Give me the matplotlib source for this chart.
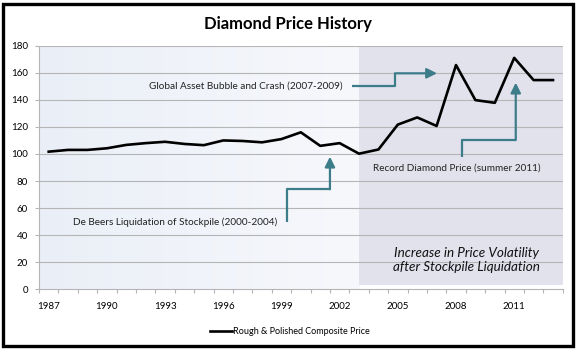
import numpy as np
import matplotlib
matplotlib.use("Agg")
import matplotlib.pyplot as plt
from matplotlib.patches import Rectangle
from matplotlib.colors import LinearSegmentedColormap

# data
years = list(range(1987, 2014))
prices = [101.7, 103, 103, 104.2, 106.7, 108, 109, 107.4, 106.5, 110, 109.6, 108.6, 111,
          116, 106, 108, 100.2, 103.3, 121.7, 127, 120.7, 165.7, 139.8, 137.8, 171, 154.6, 154.6]
tick_years = [1987, 1990, 1993, 1996, 1999, 2002, 2005, 2008, 2011]
yticks = [0, 20, 40, 60, 80, 100, 120, 140, 160, 180]
series_name = "Rough & Polished Composite Price"

teal = "#3d7d8a"
plt.rcParams["font.family"] = ["Lato", "DejaVu Sans"]

fig = plt.figure(figsize=(5.76, 3.49), dpi=100)
ax = fig.add_axes([39 / 576, 1 - 289.3 / 349, (562.7 - 39) / 576, (289.3 - 45.7) / 349])

# background gradient of the plot area + shaded volatility period
cmap = LinearSegmentedColormap.from_list("bg", ["#eaeff7", "#f7f8fc"])
grad = np.linspace(0, 1, 256).reshape(1, -1)
ax.imshow(grad, cmap=cmap, aspect="auto", extent=[1986.5, 2003, 0, 180], zorder=0)
ax.add_patch(Rectangle((2003, 3), 2013.5 - 2003, 176, facecolor="#e2e2ed", edgecolor="none", zorder=0.5))

ax.set_xlim(1986.5, 2013.5)
ax.set_ylim(0, 180)
for y in yticks[1:]:
    ax.axhline(y, color="#b5b5b5", lw=0.8, zorder=1)

ax.plot(years, prices, color="black", lw=1.9, label=series_name, zorder=5)

# axes styling
for s in ["top", "right"]:
    ax.spines[s].set_visible(False)
for s in ["left", "bottom"]:
    ax.spines[s].set_color("#b5b5b5")
    ax.spines[s].set_linewidth(0.8)
ax.set_xticks(tick_years)
ax.set_xticklabels([str(y) for y in tick_years])
ax.set_xticks(np.arange(1986.5, 2014, 1), minor=True)
ax.tick_params(axis="x", which="major", length=0, pad=9, labelsize=7)
ax.tick_params(axis="x", which="minor", length=3, color="#b5b5b5", width=0.8)
ax.set_yticks(yticks)
ax.tick_params(axis="y", length=3, color="#b5b5b5", width=0.8, pad=5, labelsize=7)

# annotations
def bent_arrow(xs, ys):
    ax.plot(xs[:-1], ys[:-1], color=teal, lw=1.6, zorder=6, solid_capstyle="butt")
    ax.annotate("", xy=(xs[-1], ys[-1]), xytext=(xs[-2], ys[-2]),
                arrowprops=dict(arrowstyle="-|>,head_length=0.6,head_width=0.3",
                                color=teal, lw=1.6, shrinkA=0, shrinkB=0), zorder=6)

ax.text(2002.17, 150.2, "Global Asset Bubble and Crash (2007-2009)", ha="right", va="center",
        fontsize=7.2, color="#222222")
bent_arrow([2002.63, 2004.85, 2004.85, 2007.02], [150.2, 150.2, 159.6, 159.6])

ax.text(1998.78, 49.2, "De Beers Liquidation of Stockpile (2000-2004)", ha="right", va="center",
        fontsize=7.2, color="#222222")
bent_arrow([1999.27, 1999.27, 2001.5, 2001.5], [50, 73.9, 73.9, 98])

ax.text(2003.72, 89.4, "Record Diamond Price (summer 2011)", ha="left", va="center",
        fontsize=7.2, color="#222222")
bent_arrow([2008.29, 2008.29, 2011.08, 2011.08], [98, 110.3, 110.3, 152.7])

ax.text(2008.55, 21.3, "Increase in Price Volatility\nafter Stockpile Liquidation", ha="center",
        va="center", fontsize=9.7, style="italic", color="#111111", linespacing=1.2)

fig.text(288 / 576, 1 - 24 / 349, "Diamond Price History", ha="center", va="center",
         fontsize=12, fontweight="bold")

fig.legend(loc="center", bbox_to_anchor=(290 / 576, 1 - 332 / 349), frameon=False,
           fontsize=6.5, handlelength=2.4, handletextpad=0.2)

# outer frame
fig.patches.append(Rectangle((2.5 / 576, 3.5 / 349), 570 / 576, 341.5 / 349, transform=fig.transFigure,
                             fill=False, edgecolor="black", lw=2.4))

fig.savefig("out.png", dpi=100)
